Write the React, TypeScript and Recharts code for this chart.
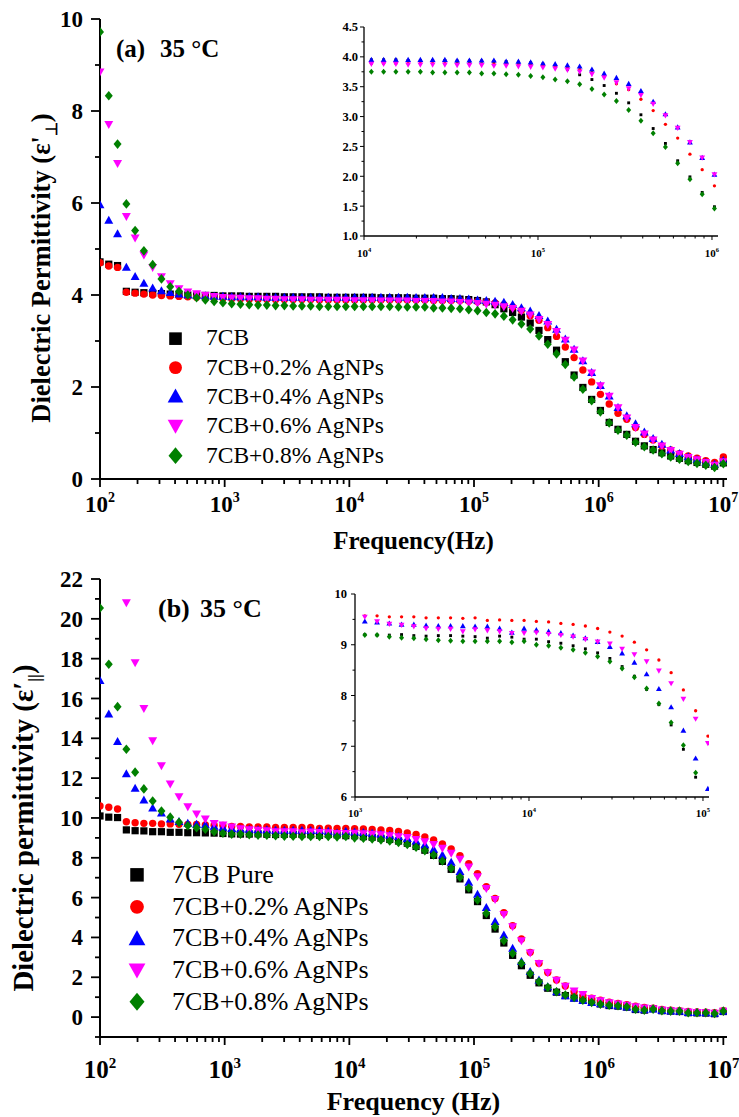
import React from 'react';
import { ScatterChart, Scatter, XAxis, YAxis, Legend } from 'recharts';

const SERIF = '"Liberation Serif", "Times New Roman", serif';

// measurement frequencies (Hz), shared by every curve
const freqHz = [
  100, 117.6, 138.3, 162.7, 191.3, 224.9, 264.5, 311.1, 365.9, 430.3,
  506.1, 595.2, 700.0, 823.3, 968.2, 1138.7, 1339.1, 1574.9, 1852.1, 2178.2,
  2561.6, 3012.6, 3542.9, 4166.6, 4900.1, 5762.8, 6777.3, 7970.4, 9373.5, 11024,
  12964, 15247, 17931, 21087, 24799, 29165, 34299, 40337, 47438, 55789,
  65611, 77161, 90745, 106719, 125506, 147600, 173584, 204141, 240078, 282341,
  332044, 390497, 459240, 540085, 635161, 746973, 878472, 1033118, 1214987, 1428873,
  1680411, 1976229, 2324126, 2733267, 3214434, 3780306, 4445795, 5228433, 6148849, 7231304,
  8504311, 10000000,
];

// panel (a): perpendicular permittivity
const perp7CB = [
  4.72, 4.67, 4.64, 4.08, 4.06, 4.05, 4.04, 4.03, 4.02, 4.01,
  4.00, 4.00, 3.99, 3.99, 3.98, 3.98, 3.98, 3.97, 3.97, 3.97,
  3.97, 3.96, 3.96, 3.96, 3.96, 3.96, 3.95, 3.95, 3.95, 3.95,
  3.95, 3.95, 3.94, 3.94, 3.94, 3.94, 3.93, 3.93, 3.93, 3.92,
  3.92, 3.91, 3.90, 3.88, 3.85, 3.79, 3.70, 3.62, 3.52, 3.39,
  3.23, 3.03, 2.80, 2.55, 2.26, 1.99, 1.73, 1.49, 1.23, 1.08,
  0.97, 0.82, 0.72, 0.64, 0.57, 0.50, 0.45, 0.40, 0.36, 0.32,
  0.28, 0.35,
];
const perpAg02 = [
  4.70, 4.63, 4.60, 4.06, 4.04, 4.02, 4.00, 3.99, 3.98, 3.97,
  3.96, 3.95, 3.94, 3.93, 3.93, 3.92, 3.92, 3.91, 3.91, 3.91,
  3.90, 3.90, 3.90, 3.90, 3.90, 3.89, 3.89, 3.89, 3.89, 3.89,
  3.89, 3.89, 3.89, 3.89, 3.89, 3.89, 3.89, 3.89, 3.88, 3.88,
  3.88, 3.88, 3.87, 3.86, 3.85, 3.83, 3.79, 3.74, 3.67, 3.55,
  3.45, 3.29, 3.10, 2.87, 2.64, 2.37, 2.11, 1.84, 1.63, 1.43,
  1.30, 1.12, 0.97, 0.85, 0.72, 0.63, 0.55, 0.50, 0.45, 0.40,
  0.36, 0.48,
];
const perpAg04 = [
  5.96, 5.62, 5.33, 4.60, 4.40, 4.25, 4.15, 4.09, 4.05, 4.02,
  4.00, 3.99, 3.98, 3.97, 3.97, 3.96, 3.96, 3.96, 3.96, 3.95,
  3.95, 3.95, 3.95, 3.95, 3.95, 3.95, 3.95, 3.95, 3.95, 3.95,
  3.95, 3.95, 3.95, 3.95, 3.95, 3.95, 3.94, 3.94, 3.94, 3.94,
  3.92, 3.92, 3.91, 3.89, 3.88, 3.86, 3.84, 3.79, 3.72, 3.65,
  3.55, 3.43, 3.25, 3.04, 2.82, 2.57, 2.31, 2.03, 1.80, 1.55,
  1.37, 1.20, 1.02, 0.88, 0.75, 0.63, 0.55, 0.48, 0.42, 0.36,
  0.32, 0.40,
];
const perpAg06 = [
  8.85, 7.71, 6.86, 5.71, 5.24, 4.87, 4.60, 4.40, 4.25, 4.14,
  4.07, 4.03, 4.00, 3.97, 3.95, 3.94, 3.93, 3.92, 3.92, 3.91,
  3.91, 3.90, 3.90, 3.90, 3.89, 3.89, 3.89, 3.89, 3.89, 3.88,
  3.88, 3.88, 3.87, 3.87, 3.87, 3.87, 3.86, 3.86, 3.86, 3.85,
  3.85, 3.84, 3.83, 3.82, 3.80, 3.78, 3.75, 3.71, 3.65, 3.57,
  3.47, 3.36, 3.21, 3.02, 2.81, 2.57, 2.31, 2.03, 1.80, 1.55,
  1.33, 1.12, 0.98, 0.85, 0.72, 0.62, 0.54, 0.47, 0.42, 0.36,
  0.30, 0.38,
];
const perpAg08 = [
  9.72, 8.33, 7.28, 5.98, 5.40, 4.96, 4.66, 4.35, 4.18, 4.08,
  4.00, 3.94, 3.89, 3.86, 3.83, 3.81, 3.80, 3.79, 3.78, 3.78,
  3.77, 3.77, 3.76, 3.76, 3.76, 3.75, 3.75, 3.75, 3.75, 3.75,
  3.75, 3.75, 3.75, 3.75, 3.74, 3.74, 3.74, 3.74, 3.72, 3.72,
  3.71, 3.70, 3.68, 3.66, 3.62, 3.59, 3.54, 3.46, 3.37, 3.26,
  3.11, 2.93, 2.72, 2.49, 2.22, 1.95, 1.70, 1.46, 1.22, 1.06,
  0.95, 0.80, 0.70, 0.63, 0.55, 0.48, 0.43, 0.38, 0.34, 0.30,
  0.25, 0.33,
];

// panel (b): parallel permittivity
const para7CB = [
  10.10, 10.04, 10.02, 9.40, 9.36, 9.35, 9.31, 9.31, 9.28, 9.28,
  9.26, 9.26, 9.25, 9.24, 9.22, 9.20, 9.19, 9.19, 9.20, 9.18,
  9.17, 9.18, 9.18, 9.17, 9.16, 9.13, 9.17, 9.15, 9.11, 9.11,
  9.06, 9.03, 8.98, 8.92, 8.84, 8.73, 8.57, 8.38, 8.12, 7.82,
  7.42, 6.94, 6.39, 5.80, 5.10, 4.42, 3.72, 3.10, 2.58, 2.10,
  1.72, 1.45, 1.25, 1.08, 0.96, 0.84, 0.75, 0.66, 0.58, 0.55,
  0.50, 0.38, 0.35, 0.42, 0.32, 0.30, 0.28, 0.22, 0.21, 0.20,
  0.17, 0.28,
];
const paraAg02 = [
  10.60, 10.54, 10.45, 9.81, 9.76, 9.73, 9.73, 9.70, 9.70, 9.68,
  9.68, 9.67, 9.65, 9.64, 9.62, 9.57, 9.57, 9.55, 9.55, 9.55,
  9.53, 9.53, 9.53, 9.52, 9.53, 9.48, 9.49, 9.48, 9.48, 9.46,
  9.45, 9.42, 9.40, 9.37, 9.32, 9.25, 9.17, 9.05, 8.90, 8.70,
  8.45, 8.11, 7.70, 7.20, 6.55, 5.96, 5.24, 4.59, 3.92, 3.25,
  2.70, 2.24, 1.86, 1.56, 1.27, 1.08, 0.95, 0.85, 0.75, 0.68,
  0.62, 0.55, 0.48, 0.45, 0.38, 0.35, 0.32, 0.28, 0.26, 0.25,
  0.22, 0.32,
];
const paraAg04 = [
  16.90, 15.21, 13.83, 12.21, 11.49, 10.90, 10.49, 10.24, 9.94, 9.81,
  9.73, 9.68, 9.65, 9.58, 9.52, 9.46, 9.44, 9.42, 9.40, 9.40,
  9.38, 9.37, 9.37, 9.37, 9.36, 9.36, 9.32, 9.24, 9.32, 9.29,
  9.26, 9.23, 9.18, 9.13, 9.06, 8.96, 8.83, 8.65, 8.42, 8.13,
  7.77, 7.31, 6.76, 6.16, 5.49, 4.79, 4.12, 3.45, 2.78, 2.28,
  1.86, 1.52, 1.27, 1.07, 0.94, 0.82, 0.72, 0.66, 0.60, 0.56,
  0.50, 0.40, 0.36, 0.40, 0.32, 0.30, 0.28, 0.22, 0.22, 0.21,
  0.18, 0.28,
];
const paraAg06 = [
  null, null, null, 20.82, 17.80, 15.51, 13.88, 12.63, 11.71, 11.07,
  10.57, 10.20, 9.95, 9.73, 9.65, 9.55, 9.46, 9.41, 9.39, 9.36,
  9.32, 9.31, 9.31, 9.26, 9.30, 9.28, 9.26, 9.23, 9.23, 9.24,
  9.21, 9.19, 9.16, 9.11, 9.06, 9.02, 8.92, 8.81, 8.67, 8.49,
  8.24, 7.93, 7.54, 7.06, 6.47, 5.91, 5.16, 4.54, 3.84, 3.23,
  2.70, 2.23, 1.86, 1.56, 1.32, 1.14, 0.94, 0.83, 0.73, 0.66,
  0.60, 0.52, 0.46, 0.42, 0.36, 0.33, 0.30, 0.26, 0.24, 0.22,
  0.20, 0.30,
];
const paraAg08 = [
  20.54, 17.72, 15.59, 13.45, 12.30, 11.46, 10.85, 10.35, 10.04, 9.78,
  9.61, 9.51, 9.43, 9.31, 9.23, 9.19, 9.19, 9.16, 9.14, 9.13,
  9.11, 9.09, 9.08, 9.07, 9.07, 9.07, 9.07, 9.05, 9.07, 9.00,
  8.98, 8.94, 8.90, 8.84, 8.77, 8.67, 8.53, 8.36, 8.14, 7.84,
  7.47, 7.02, 6.48, 5.88, 5.21, 4.54, 3.84, 3.20, 2.70, 2.19,
  1.78, 1.49, 1.27, 1.11, 0.99, 0.85, 0.74, 0.65, 0.60, 0.57,
  0.52, 0.39, 0.35, 0.40, 0.32, 0.30, 0.30, 0.22, 0.22, 0.22,
  0.18, 0.30,
];

const namesA = ['7CB', '7CB+0.2% AgNPs', '7CB+0.4% AgNPs', '7CB+0.6% AgNPs', '7CB+0.8% AgNPs'];
const namesB = ['7CB Pure', '7CB+0.2% AgNPs', '7CB+0.4% AgNPs', '7CB+0.6% AgNPs', '7CB+0.8% AgNPs'];
const colours = ['#000000', '#ff0000', '#0000ff', '#ff00ff', '#008000'];
const kinds = ['square', 'circle', 'up', 'down', 'diamond'];

const mainDecades = [1e2, 1e3, 1e4, 1e5, 1e6, 1e7];
const insetADecades = [1e4, 1e5, 1e6];
const insetBDecades = [1e3, 1e4, 1e5];
const yTicksA = [0, 1, 2, 3, 4, 5, 6, 7, 8, 9, 10];
const yTicksB = [-1, 0, 1, 2, 3, 4, 5, 6, 7, 8, 9, 10, 11, 12, 13, 14, 15, 16, 17, 18, 19, 20, 21, 22];
const yTicksInsetA = [1, 1.25, 1.5, 1.75, 2, 2.25, 2.5, 2.75, 3, 3.25, 3.5, 3.75, 4, 4.25, 4.5];
const yTicksInsetB = [6, 6.5, 7, 7.5, 8, 8.5, 9, 9.5, 10];

const MAIN_X: [number, number] = [100, 1.07e7];
const INSET_A_X: [number, number] = [1e4, 1.083e6];
const INSET_B_X: [number, number] = [1e3, 1.083e5];

function logTicks(decades: number[], hi: number) {
  const out: number[] = [];
  decades.forEach((d) => {
    for (let m = 1; m < 10; m++) if (d * m <= hi) out.push(d * m);
  });
  return out;
}

function toPoints(values: (number | null)[], lo: number, hi: number) {
  return freqHz
    .map((f, i) => ({ f, v: values[i] }))
    .filter((p) => p.v != null && p.f >= lo && p.f <= hi);
}

function Mark({ cx, cy, kind, s, color }: any) {
  if (cx == null || cy == null) return null;
  if (kind === 'square') {
    const h = s * 0.45;
    return <rect x={cx - h} y={cy - h} width={2 * h} height={2 * h} fill={color} />;
  }
  if (kind === 'circle') return <circle cx={cx} cy={cy} r={s * 0.46} fill={color} />;
  if (kind === 'up')
    return <polygon points={`${cx},${cy - s * 0.58} ${cx + s * 0.56},${cy + s * 0.42} ${cx - s * 0.56},${cy + s * 0.42}`} fill={color} />;
  if (kind === 'down')
    return <polygon points={`${cx},${cy + s * 0.58} ${cx + s * 0.56},${cy - s * 0.42} ${cx - s * 0.56},${cy - s * 0.42}`} fill={color} />;
  return <polygon points={`${cx},${cy - s * 0.6} ${cx + s * 0.5},${cy} ${cx},${cy + s * 0.6} ${cx - s * 0.5},${cy}`} fill={color} />;
}

// log axis tick: long tick + 10^n label at decades, short tick elsewhere
function LogTick({ x, y, payload, majors, major, minor, font, sup, dy, sw }: any) {
  const v = payload.value;
  const isMajor = majors.includes(v);
  return (
    <g>
      <line x1={x} y1={y} x2={x} y2={y + (isMajor ? major : minor)} stroke="#000" strokeWidth={sw} />
      {isMajor && (
        <text x={x} y={y + dy} textAnchor="middle" fontFamily={SERIF} fontWeight="bold" fontSize={font} fill="#000">
          10<tspan dy={-font * 0.42} fontSize={sup}>{Math.round(Math.log10(v))}</tspan>
        </text>
      )}
    </g>
  );
}

function LinTick({ x, y, payload, step, major, minor, font, gap, digits, sw }: any) {
  const v = payload.value;
  const isMajor = Math.abs(v / step - Math.round(v / step)) < 1e-6;
  return (
    <g>
      <line x1={x} y1={y} x2={x - (isMajor ? major : minor)} y2={y} stroke="#000" strokeWidth={sw} />
      {isMajor && (
        <text x={x - gap} y={y} dy="0.35em" textAnchor="end" fontFamily={SERIF} fontWeight="bold" fontSize={font} fill="#000">
          {v.toFixed(digits)}
        </text>
      )}
    </g>
  );
}

function LegendBox({ names, rowH, font, symX, textX, size }: any) {
  return (
    <div style={{ fontFamily: SERIF, fontSize: font, color: '#000' }}>
      {names.map((n: string, i: number) => (
        <div key={n + i} style={{ height: rowH, display: 'flex', alignItems: 'center' }}>
          <svg width={textX} height={rowH} style={{ display: 'block' }}>
            <Mark cx={symX} cy={rowH / 2} kind={kinds[i]} s={size} color={colours[i]} />
          </svg>
          <span style={{ lineHeight: 1, whiteSpace: 'nowrap' }}>{n}</span>
        </div>
      ))}
    </div>
  );
}

function MainPanel(p: any) {
  const loc = (y: number) => y - p.top;
  const frame = { stroke: '#000', strokeWidth: 2 };
  const xTicks = logTicks(mainDecades, MAIN_X[1]);
  const ty = loc(p.yTitleY);
  return (
    <div style={{ position: 'absolute', left: 0, top: p.top }}>
      <ScatterChart width={739} height={p.height} margin={{ top: p.plotTop - p.top, right: 12, bottom: 0, left: 0 }}>
        <XAxis
          xAxisId="f" dataKey="f" type="number" scale="log" domain={MAIN_X} allowDataOverflow
          ticks={xTicks} interval={0} height={p.axisH} tickSize={0} tickMargin={0} tickLine={false} axisLine={frame}
          tick={(t: any) => <LogTick {...t} majors={mainDecades} major={8} minor={5} font={p.xFont} sup={p.xSup} dy={p.xDy} sw={1.8} />}
          label={() => (
            <text x={413.5} y={loc(p.xTitleY)} textAnchor="middle" fontFamily={SERIF} fontWeight="bold" fontSize={p.xTitleFont} fill="#000">
              {p.xTitle}
            </text>
          )}
        />
        <XAxis xAxisId="top" orientation="top" type="number" scale="log" domain={MAIN_X} allowDataOverflow height={0} tick={false} tickLine={false} axisLine={frame} />
        <YAxis
          yAxisId="v" dataKey="v" type="number" domain={p.yDomain} allowDataOverflow
          ticks={p.yTicks} interval={0} width={100} tickSize={0} tickMargin={0} tickLine={false} axisLine={frame}
          tick={(t: any) => <LinTick {...t} step={2} major={9} minor={5} font={p.yFont} gap={17} digits={0} sw={1.8} />}
          label={() => (
            <g>
              <text
                x={p.yTitleX} y={ty} transform={`rotate(-90 ${p.yTitleX} ${ty})`} textAnchor="middle"
                fontFamily={SERIF} fontWeight="bold" fontSize={p.yTitleFont} fill="#000"
              >
                {p.yTitle}
                <tspan dy={p.yTitleFont * 0.25} fontSize={p.yTitleFont * 0.6}>{p.ySub}</tspan>
                <tspan dy={-p.yTitleFont * 0.25}>)</tspan>
              </text>
              <text y={loc(p.tagY)} fontFamily={SERIF} fontWeight="bold" fontSize={p.tagFont} fill="#000">
                <tspan x={p.tagX}>{p.tag}</tspan>
                <tspan x={p.tempX}>35 °C</tspan>
              </text>
            </g>
          )}
        />
        <YAxis yAxisId="right" orientation="right" type="number" domain={p.yDomain} allowDataOverflow width={0} tick={false} tickLine={false} axisLine={frame} />
        <Legend
          layout="vertical" align="center" verticalAlign="middle"
          wrapperStyle={{ left: p.legend.left, top: loc(p.legend.top), width: 340 }}
          content={() => <LegendBox names={p.names} {...p.legend} />}
        />
        {p.series.map((vals: (number | null)[], i: number) => (
          <Scatter
            key={p.names[i]} name={p.names[i]} data={toPoints(vals, 1, 1e9)}
            xAxisId="f" yAxisId="v" fill={colours[i]} isAnimationActive={false}
            shape={(s: any) => <Mark cx={s.cx} cy={s.cy} kind={kinds[i]} s={8} color={colours[i]} />}
          />
        ))}
      </ScatterChart>
    </div>
  );
}

const insetSizes = [3.2, 3.6, 5.2, 5.2, 5];

function InsetPanel(p: any) {
  const frame = { stroke: '#000', strokeWidth: 1.3 };
  const xTicks = logTicks(p.decades, p.xDomain[1]);
  return (
    <div style={{ position: 'absolute', left: p.left, top: p.top }}>
      <ScatterChart width={p.width} height={p.height} margin={{ top: 12, right: 5, bottom: 0, left: 0 }}>
        <XAxis
          xAxisId="f" dataKey="f" type="number" scale="log" domain={p.xDomain} allowDataOverflow
          ticks={xTicks} interval={0} height={30} tickSize={0} tickMargin={0} tickLine={false} axisLine={frame}
          tick={(t: any) => <LogTick {...t} majors={p.decades} major={4} minor={2.5} font={11} sup={6.5} dy={p.xDy} sw={1} />}
        />
        <XAxis xAxisId="top" orientation="top" type="number" scale="log" domain={p.xDomain} allowDataOverflow height={0} tick={false} tickLine={false} axisLine={frame} />
        <YAxis
          yAxisId="v" dataKey="v" type="number" domain={p.yDomain} allowDataOverflow
          ticks={p.yTicks} interval={0} width={p.yWidth} tickSize={0} tickMargin={0} tickLine={false} axisLine={frame}
          tick={(t: any) => <LinTick {...t} step={p.yStep} major={4} minor={2.5} font={12.5} gap={p.yGap} digits={p.digits} sw={1} />}
        />
        <YAxis yAxisId="right" orientation="right" type="number" domain={p.yDomain} allowDataOverflow width={0} tick={false} tickLine={false} axisLine={frame} />
        {p.series.map((vals: (number | null)[], i: number) => (
          <Scatter
            key={i} data={toPoints(vals, p.xDomain[0], p.xDomain[1])}
            xAxisId="f" yAxisId="v" fill={colours[i]} isAnimationActive={false}
            shape={(s: any) => <Mark cx={s.cx} cy={s.cy} kind={kinds[i]} s={insetSizes[i]} color={colours[i]} />}
          />
        ))}
      </ScatterChart>
    </div>
  );
}

export default function App() {
  const perp = [perp7CB, perpAg02, perpAg04, perpAg06, perpAg08];
  const para = [para7CB, paraAg02, paraAg04, paraAg06, paraAg08];
  return (
    <div style={{ position: 'absolute', left: 0, top: 0, width: 739, height: 1117, background: '#fff', overflow: 'hidden' }}>
      <MainPanel
        top={0} height={565} plotTop={19} axisH={86}
        series={perp} names={namesA}
        yDomain={[0, 10]} yTicks={yTicksA} yFont={23}
        xFont={23} xSup={14} xDy={33}
        xTitle="Frequency(Hz)" xTitleY={549} xTitleFont={25}
        yTitle="Dielectric Permittivity (ε'" ySub="⊥" yTitleX={50} yTitleY={268} yTitleFont={26.5}
        tag="(a)" tagX={116} tempX={160} tagY={57} tagFont={25}
        legend={{ left: 155, top: 323.6, rowH: 29.3, font: 23.5, symX: 20.5, textX: 51, size: 14 }}
      />
      <InsetPanel
        left={300} top={15} width={423} height={251}
        series={perp} decades={insetADecades} xDomain={INSET_A_X} xDy={21}
        yDomain={[1, 4.5]} yTicks={yTicksInsetA} yStep={0.5} digits={1} yWidth={64} yGap={6}
      />
      <MainPanel
        top={565} height={552} plotTop={579} axisH={80}
        series={para} names={namesB}
        yDomain={[-1, 22]} yTicks={yTicksB} yFont={23}
        xFont={25} xSup={15} xDy={41}
        xTitle="Frequency (Hz)" xTitleY={1110} xTitleFont={26}
        yTitle="Dielectric permittivity (ε′" ySub="||" yTitleX={33} yTitleY={828} yTitleFont={28.8}
        tag="(b)" tagX={158} tempX={200} tagY={617} tagFont={26}
        legend={{ left: 117, top: 859.2, rowH: 31.7, font: 26, symX: 20, textX: 55, size: 15 }}
      />
      <InsetPanel
        left={300} top={582} width={414} height={245}
        series={para} decades={insetBDecades} xDomain={INSET_B_X} xDy={20}
        yDomain={[6, 10]} yTicks={yTicksInsetB} yStep={1} digits={0} yWidth={55} yGap={8}
      />
    </div>
  );
}
